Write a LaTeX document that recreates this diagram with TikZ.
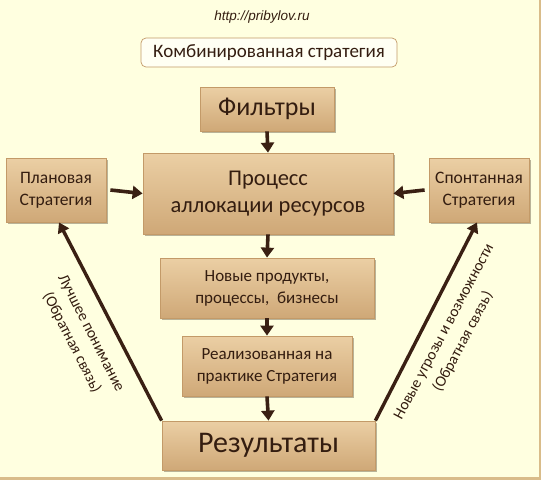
\documentclass[tikz,border=0pt]{standalone}
\usepackage{fontspec}
\setmainfont{Carlito}
\newfontfamily\urlfont{Liberation Sans}
\usetikzlibrary{arrows.meta,shadows}
\definecolor{bgc}{HTML}{FFFFE0}
\definecolor{txt}{HTML}{341D10}
\definecolor{boxtop}{HTML}{EBCFA4}
\definecolor{boxbot}{HTML}{CFA877}
\definecolor{boxedge}{HTML}{C39A68}
\definecolor{arr}{HTML}{3A2013}
\definecolor{frame}{HTML}{D9BC8A}
\tikzset{
  brbox/.style={draw=boxedge, line width=0.8pt, top color=boxtop, bottom color=boxbot,
    text=txt, inner sep=0pt, align=center,
    drop shadow={shadow xshift=1.5pt, shadow yshift=-1.5pt, opacity=0.35, fill=black!70!brown}},
  arrowline/.style={draw=arr, line width=3.6pt, -{Triangle[length=10pt,width=13pt]}},
  fbline/.style={draw=arr, line width=3.4pt, -{Triangle[length=10pt,width=12pt]}},
  fbtext/.style={text=txt, align=center, font=\fontsize{15.5}{21.5}\selectfont}
}
\begin{document}
\begin{tikzpicture}[x=1pt,y=-1pt]
\useasboundingbox (0,0) rectangle (541,480);
\fill[bgc] (0,0) rectangle (541,480);
\fill[frame] (539,0) rectangle (541,480);
\fill[frame] (0,477) rectangle (541,480);

\node[text=txt, font=\urlfont\itshape\fontsize{13.5}{15}\selectfont] (url) at (262,17) {http://pribylov.ru};

\node[draw=boxedge, line width=0.7pt, fill=white!60!bgc, rounded corners=5pt, text=txt,
  minimum width=256pt, minimum height=29pt, inner sep=0pt,
  font=\fontsize{19}{22}\selectfont] (komb) at (269,52.5) {Комбинированная стратегия};

\node[brbox, minimum width=134pt, minimum height=44pt, font=\fontsize{26}{30}\selectfont] (filt) at (267,109) {Фильтры};
\node[brbox, minimum width=250pt, minimum height=81pt, font=\fontsize{22.5}{27}\selectfont] (proc) at (268,193.5) {Процесс\\аллокации ресурсов};
\node[brbox, minimum width=100pt, minimum height=64pt, font=\fontsize{17.5}{22}\selectfont] (plan) at (56,190) {Плановая\\Стратегия};
\node[brbox, minimum width=100pt, minimum height=64pt, font=\fontsize{17.5}{22}\selectfont] (spont) at (479,190) {Спонтанная\\Стратегия};
\node[brbox, minimum width=214pt, minimum height=60pt, font=\fontsize{17}{22}\selectfont] (nov) at (267,288) {Новые продукты,\\процессы,\ \ бизнесы};
\node[brbox, minimum width=170pt, minimum height=60pt, font=\fontsize{17}{22}\selectfont] (real) at (267,366) {Реализованная на\\практике Стратегия};
\node[brbox, minimum width=213pt, minimum height=49pt, font=\fontsize{30}{32}\selectfont] (res) at (268.5,445.5) {Результаты};

\draw[arrowline] (filt.south) -- (proc.north);
\draw[arrowline] (plan.east) ++(4,0) coordinate (pe) (pe) -- (proc.west);
\draw[arrowline] (spont.west) ++(-4,0) coordinate (sw) (sw) -- (proc.east);
\draw[arrowline] (proc.south) -- (nov.north);
\draw[arrowline] (nov.south) -- (real.north);
\draw[arrowline] (real.south) -- (res.north);

\draw[fbline] (res.north west) -- ([xshift=3pt]plan.south);
\draw[fbline] (res.north east) -- ([xshift=-2pt]spont.south);

\node[fbtext, rotate=-63] (lbl1) at (81,338) {Лучшее понимание\\(Обратная связь)};
\node[fbtext, rotate=62] (lbl2) at (454,337) {Новые угрозы и возможности\\(Обратная связь)};
\end{tikzpicture}
\end{document}
